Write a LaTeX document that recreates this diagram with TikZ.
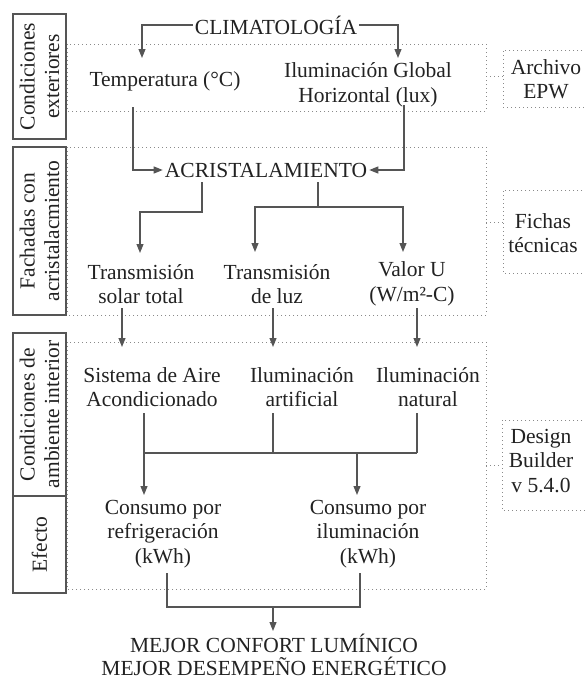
\documentclass[tikz,border=0pt]{standalone}
\usepackage{fontspec}
\setmainfont{Liberation Serif}
\usetikzlibrary{arrows.meta,calc}
\definecolor{txt}{HTML}{222222}
\definecolor{lin}{HTML}{555555}
\definecolor{dotc}{HTML}{8A8A8A}
\begin{document}
\begin{tikzpicture}[x=1pt,y=-1pt,
  font=\fontsize{21.5}{24.5}\selectfont, text=txt,
  lbl/.style={align=center, inner sep=2pt},
  arr/.style={draw=lin, line width=1.1pt, -{Triangle[length=9pt,width=7pt]}},
  ln/.style={draw=lin, line width=1.1pt},
  dotl/.style={draw=dotc, line width=1pt, dash pattern=on 1pt off 3pt},
  side/.style={draw=lin, line width=1.1pt, rotate=90, align=center, inner sep=0pt, minimum height=53pt}]
\useasboundingbox (0,0) rectangle (584,683);

% dotted regions
\draw[dotl] (66,44) -- (486,44) -- (486,111) -- (66,111);
\draw[dotl] (67,44) -- (67,111);
\draw[dotl] (66,147) -- (486,147) -- (486,315) -- (66,315);
\draw[dotl] (67,147) -- (67,315);
\draw[dotl] (66,342) -- (486,342) -- (486,589) -- (66,589);
\draw[dotl] (67,342) -- (67,589);

% side tool boxes
\node[lbl, anchor=center] (epw) at (546,79) {Archivo\\EPW};
\node[lbl] (fic) at (543,233) {Fichas\\técnicas};
\node[lbl] (des) at (541,461) {Design\\Builder\\v 5.4.0};
\draw[dotl] (590,50) -- (503,50) -- (503,107) -- (590,107);
\draw[dotl] (590,190) -- (503,190) -- (503,273) -- (590,273);
\draw[dotl] (590,420) -- (502,420) -- (502,510) -- (590,510);
\draw[dotl] (486,76) -- (503,76);
\draw[dotl] (486,222) -- (503,222);
\draw[dotl] (486,465) -- (502,465);

% left category boxes
\node[side, minimum width=125pt] (sb1) at (39.5,76.5) {Condiciones\\exteriores};
\node[side, minimum width=168pt] (sb2) at (39.5,231) {Fachadas con\\acristalacmiento};
\node[side, minimum width=163pt] (sb3) at (39.5,414.5) {Condiciones de\\ambiente interior};
\node[side, minimum width=97pt] (sb4) at (39.5,544.5) {Efecto};

% main nodes
\node[lbl] (clim) at (276,25) {CLIMATOLOGÍA};
\node[lbl] (temp) at (165,81) {Temperatura (°C)};
\node[lbl] (ilum) at (368,85) {Iluminación Global\\Horizontal (lux)};
\node[lbl] (acri) at (266,170) {ACRISTALAMIENTO};
\node[lbl] (tst) at (141,284) {Transmisión\\solar total};
\node[lbl] (tl) at (277,284) {Transmisión\\de luz};
\node[lbl] (vu) at (412,284) {Valor U\\(W/m²-C)};
\node[lbl] (sis) at (152,387) {Sistema de Aire\\Acondicionado};
\node[lbl] (iart) at (302,387) {Iluminación\\artificial};
\node[lbl] (inat) at (428,387) {Iluminación\\natural};
\node[lbl] (cref) at (163,534) {Consumo por\\refrigeración\\(kWh)};
\node[lbl] (cilu) at (368,534) {Consumo por\\iluminación\\(kWh)};
\node[lbl, font=\fontsize{21.5}{23}\selectfont] (mej) at (274,655) {MEJOR CONFORT LUMÍNICO\\MEJOR DESEMPEÑO ENERGÉTICO};

% connector points
\coordinate (a1) at (142,58);
\coordinate (a2) at (398,58);
\coordinate (s3) at (133,107);
\coordinate (s4) at (404,105);
\coordinate (b1) at (202,182);
\coordinate (b2) at (140,253);
\coordinate (b3) at (318,182);
\coordinate (b4) at (255,252);
\coordinate (b5) at (403,252);
\coordinate (c1s) at (122,308); \coordinate (c1e) at (122,347);
\coordinate (c2s) at (273,308); \coordinate (c2e) at (273,347);
\coordinate (c3s) at (417,308); \coordinate (c3e) at (417,347);
\coordinate (d1) at (144,413); \coordinate (d1e) at (144,495);
\coordinate (d2) at (273,413);
\coordinate (d3) at (417,413);
\coordinate (d4e) at (357,495);
\coordinate (e1) at (167,573);
\coordinate (e2) at (360,573);
\coordinate (e3e) at (273,631);

% connectors
\draw[arr] (clim.west) -| (a1);
\draw[arr] (clim.east) -| (a2);
\draw[arr] (s3) |- (acri.west);
\draw[arr] (s4) |- (acri.east);
\draw[arr] (b1) -- ++(0,30) -| (b2);
\draw[ln] (b3) -- ++(0,25);
\draw[arr] (b3 |- 0,207) -| (b4);
\draw[arr] (b3 |- 0,207) -| (b5);
\draw[arr] (c1s) -- (c1e);
\draw[arr] (c2s) -- (c2e);
\draw[arr] (c3s) -- (c3e);
\draw[arr] (d1) -- (d1e);
\draw[ln] (d1 |- 0,453) -- (d3 |- 0,453);
\draw[ln] (d2) -- (d2 |- 0,453);
\draw[ln] (d3) -- (d3 |- 0,453);
\draw[arr] (d4e |- 0,453) -- (d4e);
\draw[ln] (e1) |- (273,607) -| (e2);
\draw[arr] (e3e |- 0,607) -- (e3e);
\end{tikzpicture}
\end{document}
